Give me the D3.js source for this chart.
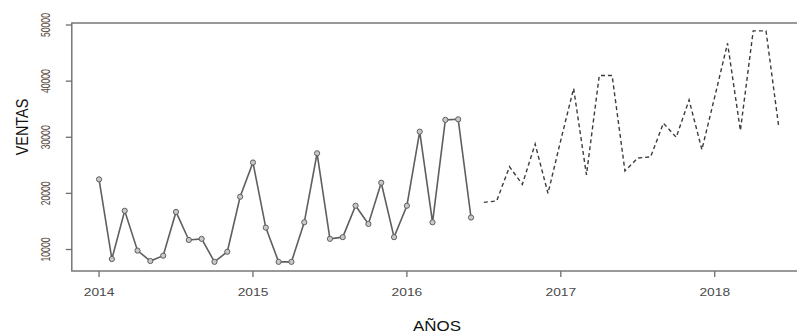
<!DOCTYPE html>
<html>
<head>
<meta charset="utf-8">
<script src="https://cdn.jsdelivr.net/npm/d3@7"></script>
<style>
  html, body { margin: 0; padding: 0; background: #fff; }
  svg { display: block; font-family: "Liberation Sans", Arial, sans-serif; }
</style>
</head>
<body>
<div id="chart"></div>
<script>
// monthly sales, Jan 2014 - Jun 2016
const observed = [
    22500, 8300, 16900, 9800, 7950, 8900, 16700, 11700, 11900, 7800, 9600, 19400,
    25500, 13900, 7800, 7800, 14850, 27150, 11900, 12200, 17800, 14550, 21900, 12200,
    17800, 31000, 14850, 33100, 33200, 15700
];
// forecast, Jul 2016 - Jun 2018
const forecast = [
    18400, 18650, 24750, 21600, 28800, 20000,
    29500, 38700, 23300, 41000, 41000, 24000, 26300, 26500, 32500, 30000, 36650, 27800,
    37200, 46750, 31200, 48950, 48950, 31700
];
const startYear = 2014;
const forecastStart = 2016 + 6 / 12;
const xTicks = [2014, 2015, 2016, 2017, 2018];
const yTicks = [10000, 20000, 30000, 40000, 50000];

const width = 797, height = 335;
const obsData = observed.map((v, i) => ({t: startYear + i / 12, v}));
const fcData = forecast.map((v, i) => ({t: forecastStart + i / 12, v}));

const x = d3.scaleLinear().domain([2013.823, 2018.593]).range([71.8, 806]);
const y = d3.scaleLinear().domain([6170, 50360]).range([271, 23]);

const svg = d3.select("#chart").append("svg")
    .attr("width", width)
    .attr("height", height);

// plot box
svg.append("rect")
    .attr("x", x.range()[0])
    .attr("y", y.range()[1])
    .attr("width", x.range()[1] - x.range()[0])
    .attr("height", y.range()[0] - y.range()[1])
    .attr("fill", "none")
    .attr("stroke", "#6e6e6e")
    .attr("stroke-width", 1.4);

// x axis
const xg = svg.append("g").attr("transform", `translate(0,${y.range()[0]})`);
xg.selectAll("line").data(xTicks).enter().append("line")
    .attr("x1", d => x(d)).attr("x2", d => x(d))
    .attr("y1", 0).attr("y2", 6)
    .attr("stroke", "#6e6e6e").attr("stroke-width", 1.3);
xg.selectAll("text").data(xTicks).enter().append("text")
    .attr("transform", d => `translate(${x(d)},25) scale(1.2,1)`)
    .attr("text-anchor", "middle")
    .attr("font-size", 11.5)
    .attr("fill", "#4a4a4a")
    .text(d => d);

// y axis
const yg = svg.append("g").attr("transform", `translate(${x.range()[0]},0)`);
yg.selectAll("line").data(yTicks).enter().append("line")
    .attr("x1", -6).attr("x2", 0)
    .attr("y1", d => y(d)).attr("y2", d => y(d))
    .attr("stroke", "#6e6e6e").attr("stroke-width", 1.3);
yg.selectAll("text").data(yTicks).enter().append("text")
    .attr("transform", d => `translate(-22,${y(d)}) rotate(-90) scale(0.66,1)`)
    .attr("text-anchor", "middle")
    .attr("font-size", 13)
    .attr("fill", "#5a4a40")
    .text(d => d);

// axis titles
svg.append("text")
    .attr("transform", "translate(28,127) rotate(-90) scale(0.9,1)")
    .attr("text-anchor", "middle")
    .attr("font-size", 16)
    .attr("fill", "#111")
    .text("VENTAS");
svg.append("text")
    .attr("transform", "translate(437,331) scale(1.13,1)")
    .attr("text-anchor", "middle")
    .attr("font-size", 15)
    .attr("fill", "#111")
    .text("AÑOS");

const line = d3.line().x(d => x(d.t)).y(d => y(d.v));

// observed series
svg.append("path")
    .datum(obsData)
    .attr("d", line)
    .attr("fill", "none")
    .attr("stroke", "#5f5f5f")
    .attr("stroke-width", 1.6);
svg.append("g").selectAll("circle").data(obsData).enter().append("circle")
    .attr("cx", d => x(d.t))
    .attr("cy", d => y(d.v))
    .attr("r", 2.6)
    .attr("fill", "#c8c8c8")
    .attr("stroke", "#5f5f5f")
    .attr("stroke-width", 1);

// forecast series
svg.append("path")
    .datum(fcData)
    .attr("d", line)
    .attr("fill", "none")
    .attr("stroke", "#3c3c3c")
    .attr("stroke-width", 1.4)
    .attr("stroke-dasharray", "4,3");
</script>
</body>
</html>
